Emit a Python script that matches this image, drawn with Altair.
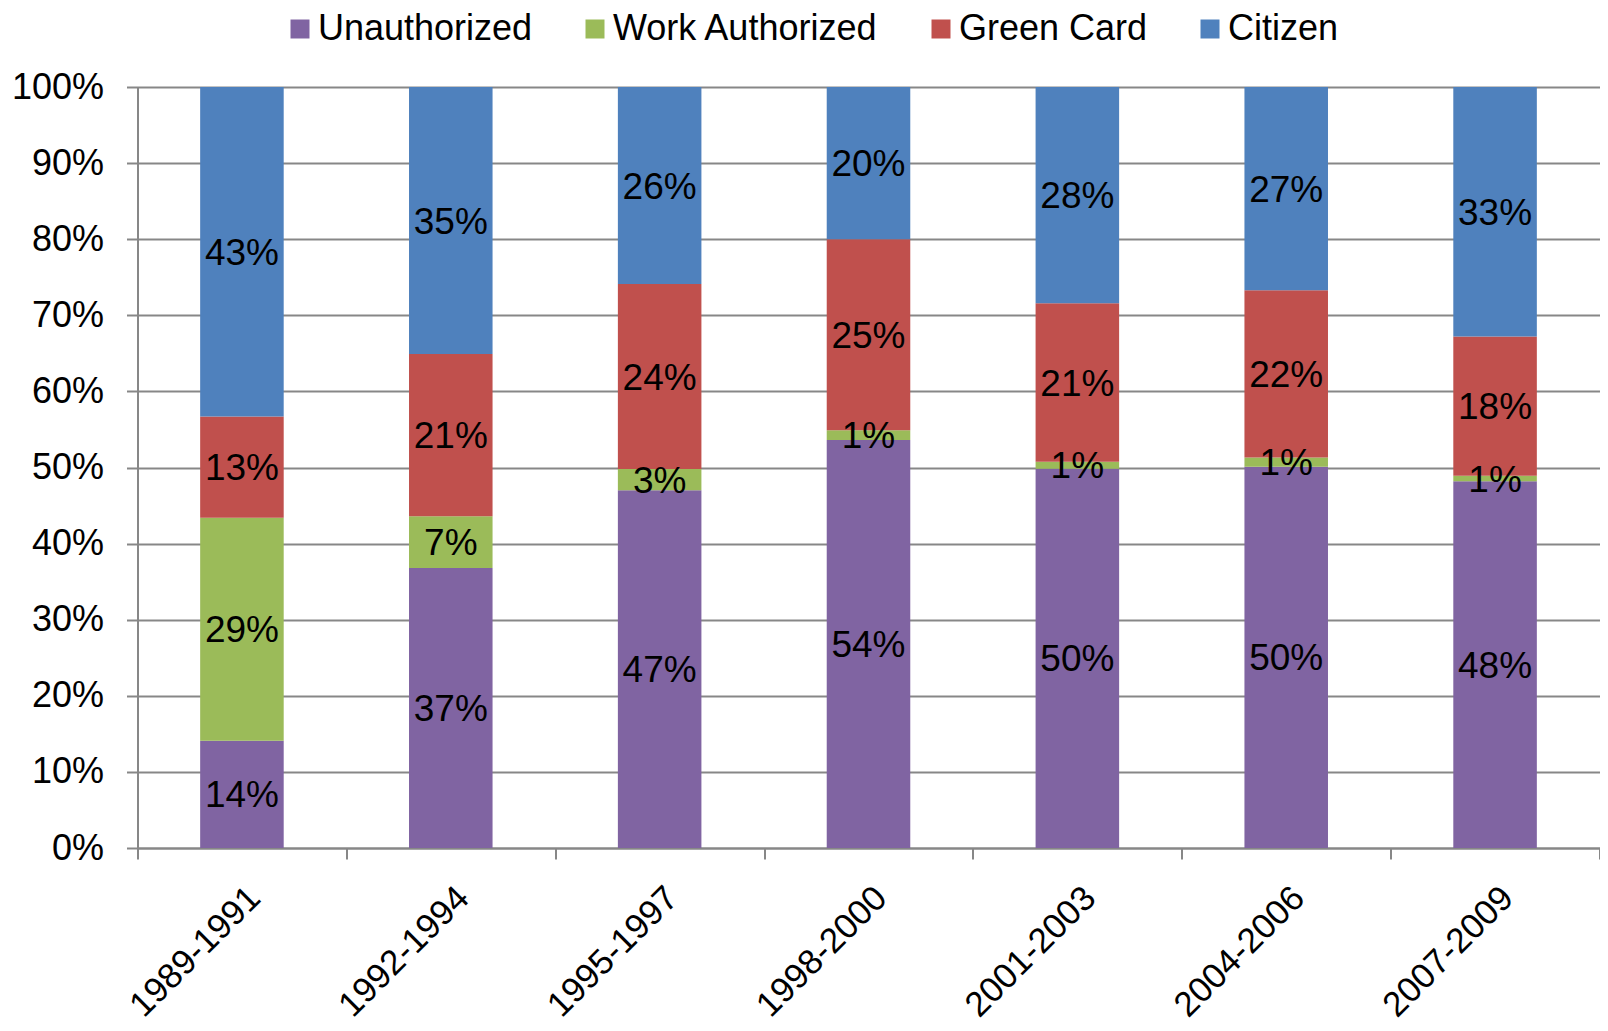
import altair as alt
import pandas as pd

periods = ["1989-1991", "1992-1994", "1995-1997", "1998-2000",
           "2001-2003", "2004-2006", "2007-2009"]
statuses = ["Unauthorized", "Work Authorized", "Green Card", "Citizen"]
colors = ["#8064A2", "#9BBB59", "#C0504D", "#4F81BD"]

unauthorized = [14.1, 36.8, 47.0, 53.6, 49.8, 50.1, 48.2]
work_authorized = [29.3, 6.8, 2.8, 1.3, 0.9, 1.2, 0.7]
green_card = [13.3, 21.3, 24.3, 25.1, 20.8, 22.0, 18.3]
citizen = [43.3, 35.1, 25.9, 20.0, 28.4, 26.7, 32.8]

y_ticks = [0, 0.1, 0.2, 0.3, 0.4, 0.5, 0.6, 0.7, 0.8, 0.9, 1.0]

series = [unauthorized, work_authorized, green_card, citizen]
rows = []
for si, (name, vals) in enumerate(zip(statuses, series)):
    for p, v in zip(periods, vals):
        rows.append({"period": p, "status": name, "order": si, "value": v})
df = pd.DataFrame(rows)

FONT = "Liberation Sans"
GRAY = "#878787"

base = alt.Chart(df).transform_stack(
    stack="value",
    groupby=["period"],
    as_=["v0", "v1"],
    offset="normalize",
    sort=[alt.SortField("order", order="ascending")],
).transform_calculate(
    mid="(datum.v0 + datum.v1) / 2",
    label="format(datum.value / 100, '.0%')",
)

x_scale = alt.Scale(paddingInner=0, paddingOuter=0)

x_enc = alt.X(
    "period:N",
    sort=periods,
    scale=x_scale,
    axis=alt.Axis(
        title=None,
        grid=False,
        tickBand="extent",
        tickSize=11,
        tickColor=GRAY,
        tickWidth=2,
        domainColor=GRAY,
        domainWidth=2,
        labelAngle=-45,
        labelAlign="right",
        labelBaseline="top",
        labelPadding=21,
        labelFontSize=35,
        labelFont=FONT,
        labelColor="black",
        labelLimit=400,
    ),
)

y_axis = alt.Axis(
    title=None,
    values=y_ticks,
    format=".0%",
    grid=True,
    gridColor=GRAY,
    gridWidth=2,
    tickSize=11,
    tickColor=GRAY,
    tickWidth=2,
    domainColor=GRAY,
    domainWidth=2,
    labelFontSize=36,
    labelFont=FONT,
    labelColor="black",
    labelPadding=23,
)

bars = base.mark_bar(width=alt.RelativeBandSize(0.4)).encode(
    x=x_enc,
    y=alt.Y("v0:Q", scale=alt.Scale(domain=[0, 1]), axis=y_axis, title=None),
    y2="v1:Q",
    color=alt.Color(
        "status:N",
        scale=alt.Scale(domain=statuses, range=colors),
        legend=alt.Legend(
            title=None,
            orient="none",
            direction="horizontal",
            legendX=144.5,
            legendY=-76,
            symbolType="square",
            symbolSize=361,
            symbolStrokeWidth=0,
            labelFontSize=36,
            labelFont=FONT,
            labelColor="black",
            labelOffset=0,
            columnPadding=44,
            labelLimit=500,
            padding=0,
        ),
    ),
)

texts = base.mark_text(
    fontSize=37, font=FONT, color="black", align="center", baseline="middle", dy=2
).encode(
    x=alt.X("period:N", sort=periods, scale=x_scale),
    y=alt.Y("mid:Q", title=None),
    text="label:N",
)

chart = alt.layer(bars, texts).properties(
    width=1462,
    height=761,
    autosize=alt.AutoSizeParams(type="none"),
    padding={"left": 129.5, "top": 79, "right": 0, "bottom": 175},
).configure_view(stroke=None)

chart.save("out.html", embed_options={"renderer": "svg", "actions": False})
